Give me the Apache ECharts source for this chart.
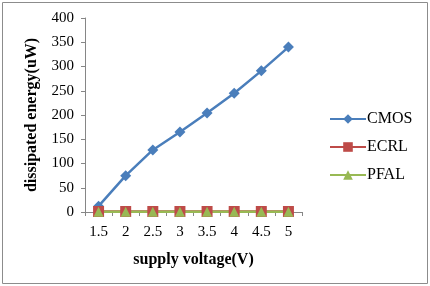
<!DOCTYPE html>
<html><head><meta charset="utf-8">
<script src="https://cdn.jsdelivr.net/npm/echarts@6/dist/echarts.min.js"></script>
<style>html,body{margin:0;padding:0;background:#fff}#c{width:430px;height:286px}</style>
</head><body><div id="c"></div>
<script>
const categories = ['1.5','2','2.5','3','3.5','4','4.5','5'];
const cmos = [12, 75, 128, 165, 204, 245, 291, 340];
const ecrl = [1, 1, 1, 1, 1, 1, 1, 1];
const pfal = [0.4, 0.4, 0.4, 0.4, 0.4, 0.4, 0.4, 0.4];
const seriesNames = ['CMOS', 'ECRL', 'PFAL'];

const chart = echarts.init(document.getElementById('c'), null, {renderer: 'canvas'});
const font = 'Liberation Serif';
chart.setOption({
  animation: false,
  graphic: [{type: 'rect', shape: {x: 2.5, y: 2.5, width: 425, height: 281},
    style: {fill: 'none', stroke: '#8c8c8c', lineWidth: 1}}],
  grid: {left: 85, right: 128, top: 18, bottom: 74, containLabel: false},
  legend: {
    orient: 'vertical', left: 324, top: 106, itemGap: 12,
    itemWidth: 36, itemHeight: 12,
    textStyle: {fontFamily: font, fontSize: 16, color: '#000', padding: [0,0,0,-4]},
    data: seriesNames
  },
  xAxis: {
    type: 'category', data: categories, boundaryGap: true,
    name: 'supply voltage(V)', nameLocation: 'middle', nameGap: 40,
    nameTextStyle: {fontFamily: font, fontSize: 16, fontWeight: 'bold', color: '#000'},
    axisLine: {lineStyle: {color: '#868686'}},
    axisTick: {show: true, length: 4, lineStyle: {color: '#868686'}},
    axisLabel: {fontFamily: font, fontSize: 15, color: '#000', margin: 13}
  },
  yAxis: {
    type: 'value', min: 0, max: 400, interval: 50,
    name: 'dissipated energy(uW)', nameLocation: 'middle', nameGap: 45,
    nameTextStyle: {fontFamily: font, fontSize: 16, fontWeight: 'bold', color: '#000'},
    axisLine: {show: true, lineStyle: {color: '#868686'}},
    axisTick: {show: true, length: 4, lineStyle: {color: '#868686'}},
    splitLine: {show: false},
    axisLabel: {fontFamily: font, fontSize: 15, color: '#000', margin: 11}
  },
  series: [
    {name: 'CMOS', type: 'line', data: cmos, symbol: 'diamond', symbolSize: 11,
     itemStyle: {color: '#4a7ebb'}, lineStyle: {width: 2.5, color: '#4a7ebb'}},
    {name: 'ECRL', type: 'line', data: ecrl, symbol: 'rect', symbolSize: 11,
     itemStyle: {color: '#be4b48'}, lineStyle: {width: 2.5, color: '#be4b48'}},
    {name: 'PFAL', type: 'line', data: pfal, symbol: 'triangle', symbolSize: 10,
     itemStyle: {color: '#98b954'}, lineStyle: {width: 2.5, color: '#98b954'}}
  ]
});
</script></body></html>
